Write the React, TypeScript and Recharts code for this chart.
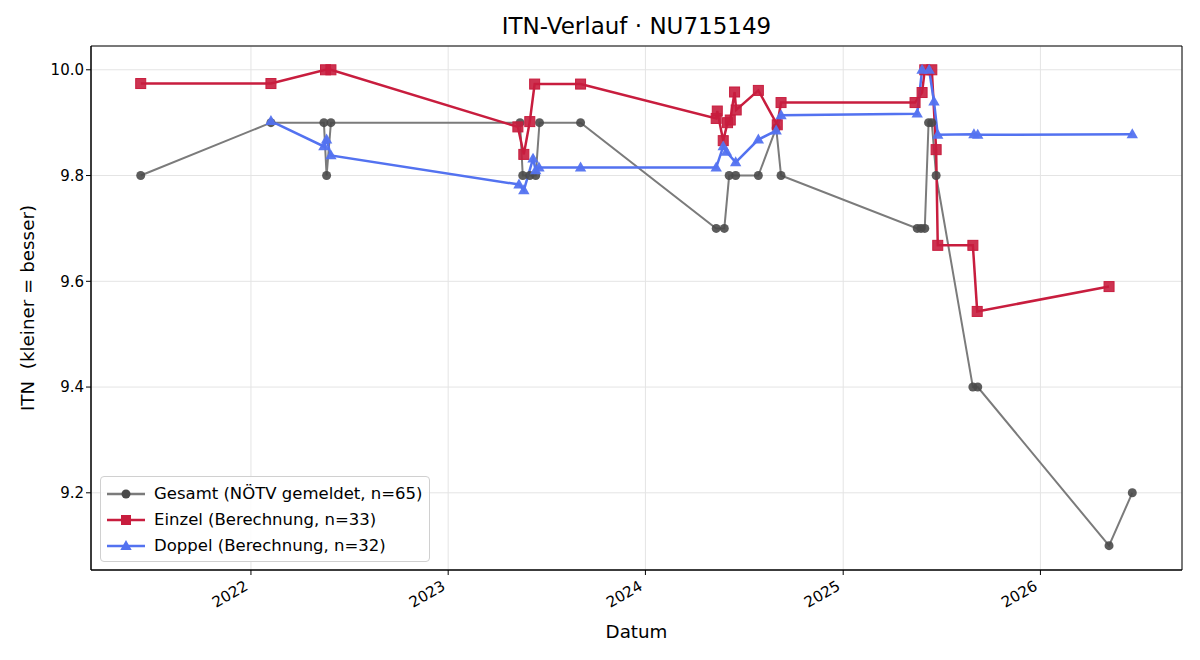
import React from "react";
import {
  LineChart,
  Line,
  XAxis,
  YAxis,
  CartesianGrid,
  ReferenceArea,
} from "recharts";

// ---- data -------------------------------------------------------------
const gesamtDates = [
  "2021-06-11", "2022-02-07", "2022-05-16", "2022-05-21", "2022-05-29",
  "2023-05-14", "2023-05-19", "2023-06-01", "2023-06-12", "2023-06-19",
  "2023-09-03", "2024-05-11", "2024-05-26", "2024-06-04", "2024-06-16",
  "2024-07-28", "2024-08-30", "2024-09-08", "2025-05-18", "2025-05-25",
  "2025-06-01", "2025-06-08", "2025-06-14", "2025-06-22", "2025-08-29",
  "2025-09-07", "2026-05-08", "2026-06-20",
];
const gesamtValues = [
  9.8, 9.9, 9.9, 9.8, 9.9,
  9.9, 9.8, 9.8, 9.8, 9.9,
  9.9, 9.7, 9.7, 9.8, 9.8,
  9.8, 9.89, 9.8, 9.7, 9.7,
  9.7, 9.9, 9.9, 9.8, 9.4,
  9.4, 9.1, 9.2,
];

const einzelDates = [
  "2021-06-11", "2022-02-07", "2022-05-19", "2022-05-29",
  "2023-05-10", "2023-05-21", "2023-06-01", "2023-06-10", "2023-09-03",
  "2024-05-11", "2024-05-13", "2024-05-24", "2024-06-01", "2024-06-06",
  "2024-06-14", "2024-06-17", "2024-07-28", "2024-09-01", "2024-09-08",
  "2025-05-14", "2025-05-27", "2025-06-01", "2025-06-14", "2025-06-22",
  "2025-06-25", "2025-08-29", "2025-09-06", "2026-05-08",
];
const einzelValues = [
  9.974, 9.974, 10.0, 10.0,
  9.892, 9.84, 9.902, 9.973, 9.973,
  9.908, 9.922, 9.866, 9.9, 9.905,
  9.958, 9.924, 9.961, 9.896, 9.938,
  9.938, 9.957, 10.0, 10.0, 9.849,
  9.668, 9.668, 9.543, 9.59,
];

const doppelDates = [
  "2022-02-07", "2022-05-16", "2022-05-21", "2022-05-29",
  "2023-05-12", "2023-05-21", "2023-06-07", "2023-06-12", "2023-06-18",
  "2023-09-03", "2024-05-11", "2024-05-24", "2024-05-30", "2024-06-16",
  "2024-07-28", "2024-08-30", "2024-09-08", "2025-05-18", "2025-05-27",
  "2025-06-09", "2025-06-18", "2025-06-25", "2025-08-31", "2025-09-07",
  "2026-06-20",
];
const doppelValues = [
  9.903, 9.855, 9.868, 9.838,
  9.783, 9.772, 9.832, 9.81, 9.815,
  9.815, 9.815, 9.855, 9.845, 9.825,
  9.868, 9.885, 9.914, 9.917, 10.0,
  10.0, 9.94, 9.877, 9.878, 9.877,
  9.878,
];

const yearTicks = ["2022-01-01", "2023-01-01", "2024-01-01", "2025-01-01", "2026-01-01"];
const yTicks = [9.2, 9.4, 9.6, 9.8, 10.0];

const legendLabels = {
  gesamt: "Gesamt (NÖTV gemeldet, n=65)",
  einzel: "Einzel (Berechnung, n=33)",
  doppel: "Doppel (Berechnung, n=32)",
};

// ---- helpers ----------------------------------------------------------
const ts = (d: string) => new Date(d + "T00:00:00Z").getTime();
const build = (dates: string[], values: number[]) =>
  dates.map((d, i) => ({ t: ts(d), v: values[i] }));

const gesamtData = build(gesamtDates, gesamtValues);
const einzelData = build(einzelDates, einzelValues);
const doppelData = build(doppelDates, doppelValues);

const xDomain = [ts("2021-03-11"), ts("2026-09-20")];
const yDomain = [9.054, 10.045];

const FONT = "'DejaVu Sans', sans-serif";
const GRAY_LINE = "#7b7b7b";
const GRAY_DOT = "#4a4a4a";
const RED = "#c81d3e";
const BLUE = "#5372f0";

const CircleDot = (props: any) => {
  const { cx, cy, index } = props;
  if (cx == null || cy == null) return null;
  return <circle key={`g${index}`} cx={cx} cy={cy} r={4.5} fill={GRAY_DOT} fillOpacity={0.9} />;
};

const SquareDot = (props: any) => {
  const { cx, cy, index } = props;
  if (cx == null || cy == null) return null;
  const s = 5;
  return (
    <rect
      key={`s${index}`}
      x={cx - s}
      y={cy - s}
      width={2 * s}
      height={2 * s}
      fill={RED}
      fillOpacity={0.9}
      stroke={RED}
      strokeWidth={1}
    />
  );
};

const TriDot = (props: any) => {
  const { cx, cy, index } = props;
  if (cx == null || cy == null) return null;
  const r = 6;
  const pts = `${cx},${cy - r} ${cx - r * 0.95},${cy + r * 0.65} ${cx + r * 0.95},${cy + r * 0.65}`;
  return <polygon key={`t${index}`} points={pts} fill={BLUE} fillOpacity={0.95} />;
};

const YearTick = (props: any) => {
  const { x, y, payload } = props;
  const year = new Date(payload.value).getUTCFullYear();
  return (
    <g transform={`translate(${x - 2},${y + 12})`}>
      <text
        transform="rotate(-30)"
        textAnchor="end"
        fontSize={15}
        fontFamily={FONT}
        fill="#000"
      >
        {year}
      </text>
    </g>
  );
};

const LegendBox = () => {
  const rows = [
    { label: legendLabels.gesamt, color: GRAY_LINE, kind: "circle" },
    { label: legendLabels.einzel, color: RED, kind: "square" },
    { label: legendLabels.doppel, color: BLUE, kind: "tri" },
  ];
  return (
    <div
      style={{
        position: "absolute",
        left: 100,
        top: 476,
        width: 330,
        height: 86,
        boxSizing: "border-box",
        background: "rgba(255,255,255,0.85)",
        border: "1px solid #d0d0d0",
        borderRadius: 4,
        padding: "4px 6px 4px 5px",
        fontFamily: FONT,
        fontSize: 16.5,
        lineHeight: "26px",
        color: "#000",
        whiteSpace: "nowrap",
      }}
    >
      {rows.map((r) => (
        <div key={r.label} style={{ display: "flex", alignItems: "center" }}>
          <svg width={40} height={16} style={{ marginRight: 8 }}>
            <line x1={1} x2={39} y1={8} y2={8} stroke={r.color} strokeWidth={2.5} />
            {r.kind === "circle" && <circle cx={20} cy={8} r={4.5} fill={GRAY_DOT} />}
            {r.kind === "square" && <rect x={15} y={3} width={10} height={10} fill={RED} />}
            {r.kind === "tri" && <polygon points="20,2 14.3,11.9 25.7,11.9" fill={BLUE} />}
          </svg>
          <span>{r.label}</span>
        </div>
      ))}
    </div>
  );
};

export default function App() {
  return (
    <div
      style={{
        position: "absolute",
        left: 0,
        top: 0,
        width: 1200,
        height: 660,
        background: "#fff",
        fontFamily: FONT,
      }}
    >
      <LineChart
        width={1200}
        height={660}
        margin={{ top: 46, right: 18, bottom: 30, left: 31 }}
      >
        <CartesianGrid stroke="#e4e4e4" strokeWidth={1} />
        <XAxis
          dataKey="t"
          type="number"
          scale="linear"
          domain={xDomain}
          ticks={yearTicks.map(ts)}
          allowDataOverflow
          height={60}
          stroke="#000"
          tickSize={5}
          tick={<YearTick />}
        />
        <YAxis
          dataKey="v"
          type="number"
          domain={yDomain}
          ticks={yTicks}
          allowDataOverflow
          width={60}
          stroke="#000"
          tickSize={5}
          tickFormatter={(v: number) => v.toFixed(1)}
          tick={{ fontSize: 15, fontFamily: FONT, fill: "#000" }}
        />
        <ReferenceArea
          x1={xDomain[0]}
          x2={xDomain[1]}
          y1={yDomain[0]}
          y2={yDomain[1]}
          fill="none"
          stroke="#000"
          strokeWidth={1}
          ifOverflow="visible"
        />
        <Line
          data={gesamtData}
          dataKey="v"
          name={legendLabels.gesamt}
          stroke={GRAY_LINE}
          strokeWidth={2}
          dot={<CircleDot />}
          activeDot={false}
          type="linear"
          isAnimationActive={false}
        />
        <Line
          data={einzelData}
          dataKey="v"
          name={legendLabels.einzel}
          stroke={RED}
          strokeWidth={2.5}
          dot={<SquareDot />}
          activeDot={false}
          type="linear"
          isAnimationActive={false}
        />
        <Line
          data={doppelData}
          dataKey="v"
          name={legendLabels.doppel}
          stroke={BLUE}
          strokeWidth={2.5}
          dot={<TriDot />}
          activeDot={false}
          type="linear"
          isAnimationActive={false}
        />
      </LineChart>
      <div
        style={{
          position: "absolute",
          left: 91,
          width: 1091,
          top: 13,
          textAlign: "center",
          fontSize: 23,
          color: "#000",
        }}
      >
        ITN-Verlauf · NU715149
      </div>
      <div
        style={{
          position: "absolute",
          left: 91,
          width: 1091,
          top: 621,
          textAlign: "center",
          fontSize: 18.3,
          color: "#000",
        }}
      >
        Datum
      </div>
      <div
        style={{
          position: "absolute",
          left: 27,
          top: 308,
          transform: "translate(-50%, -50%) rotate(-90deg)",
          whiteSpace: "pre",
          fontSize: 18.3,
          color: "#000",
        }}
      >
        ITN  (kleiner = besser)
      </div>
      <LegendBox />
    </div>
  );
}
